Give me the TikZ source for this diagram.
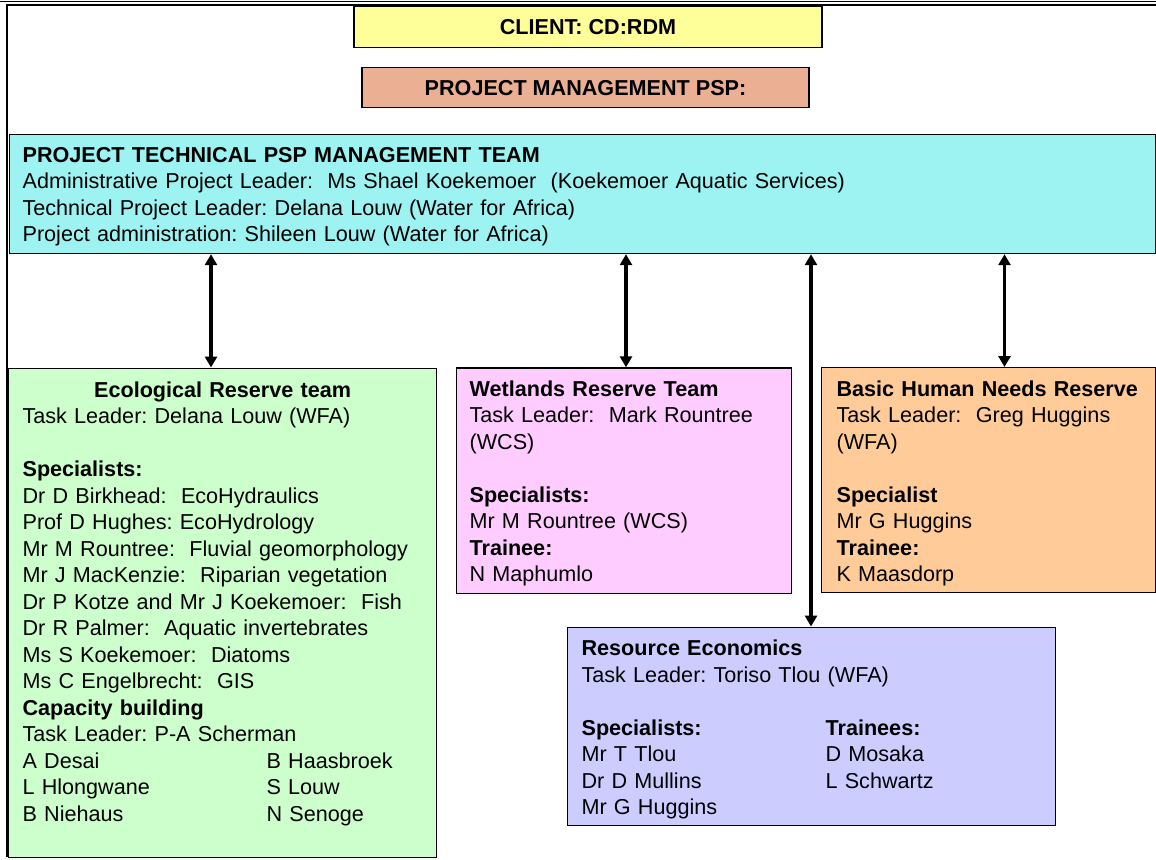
\documentclass[tikz,border=0pt]{standalone}
\usepackage{fontspec}
\setmainfont{Liberation Sans}
\usetikzlibrary{arrows.meta}

\definecolor{gelb}{HTML}{FFFF99}
\definecolor{lachs}{HTML}{EBB093}
\definecolor{tuerkis}{HTML}{9DF2F2}
\definecolor{gruen}{HTML}{CCFFCC}
\definecolor{rosa}{HTML}{FFCCFF}
\definecolor{apricot}{HTML}{FFCC99}
\definecolor{lila}{HTML}{CCCCFF}

\begin{document}
\frenchspacing
\begin{tikzpicture}[x=0.5pt,y=-0.5pt,<->,>={Triangle[length=5.5pt,width=6pt]},
	font=\fontsize{10.8}{13.25}\selectfont,
	kopf/.style={draw,line width=0.6pt,anchor=north,inner ysep=0pt,text height=13.75pt,font=\fontsize{10.8}{13.25}\selectfont\bfseries},
	team/.style={draw,line width=0.6pt,anchor=north west,align=left,inner ysep=0pt,inner xsep=7pt},
	pfeil/.style={line width=1.6pt}]

\useasboundingbox (0,0) rectangle (1156,859);

%Rahmen
\draw[-,line width=0.5pt] (0,1) -- (1156,1);
\draw[-,line width=1pt] (1156,5) -- (7,5) -- (7,857);

%Erstelle Kopf
\node[kopf,fill=gelb,minimum width=234pt,text depth=6.75pt]	(C)	at (588,6)	{CLIENT: CD:RDM};
\node[kopf,fill=lachs,minimum width=223.5pt,text depth=6.25pt]	(P)	at (585.5,67)	{PROJECT MANAGEMENT PSP:};
\node[team,fill=tuerkis,text width=560pt,inner xsep=6.5pt,text height=13.7pt,text depth=45.8pt]	(T)	at (9,134)
	{\textbf{PROJECT TECHNICAL PSP MANAGEMENT TEAM}\\
	Administrative Project Leader:~ Ms Shael Koekemoer~ (Koekemoer Aquatic Services)\\
	Technical Project Leader: Delana Louw (Water for Africa)\\
	Project administration: Shileen Louw (Water for Africa)};

%Erstelle Teams
\node[team,fill=gruen,text width=200pt,text height=14.6pt,text depth=230.15pt]	(E)	at (8,367.5)
	{\makebox[200pt]{\textbf{Ecological Reserve team}}\\
	Task Leader: Delana Louw (WFA)\\[13.25pt]
	\textbf{Specialists:}\\
	Dr D Birkhead:~ EcoHydraulics\\
	Prof D Hughes: EcoHydrology\\
	Mr M Rountree:~ Fluvial geomorphology\\
	Mr J MacKenzie:~ Riparian vegetation\\
	Dr P Kotze and Mr J Koekemoer:~ Fish\\
	Dr R Palmer:~ Aquatic invertebrates\\
	Ms S Koekemoer:~ Diatoms\\
	Ms C Engelbrecht:~ GIS\\
	\textbf{Capacity building}\\
	Task Leader: P-A Scherman\\
	\makebox[122pt][l]{A Desai}B Haasbroek\\
	\makebox[122pt][l]{L Hlongwane}S Louw\\
	\makebox[122pt][l]{B Niehaus}N Senoge};
\node[team,fill=rosa,text width=154.5pt,inner xsep=6.5pt,text height=14.2pt,text depth=98.65pt]	(W)	at (456,367.3)
	{\textbf{Wetlands Reserve Team}\\
	Task Leader:~ Mark Rountree\\
	(WCS)\\[13.25pt]
	\textbf{Specialists:}\\
	Mr M Rountree (WCS)\\
	\textbf{Trainee:}\\
	N Maphumlo};
\node[team,fill=apricot,text width=152pt,inner xsep=7.5pt,text height=14.2pt,text depth=98.3pt]	(B)	at (821,367)
	{\textbf{Basic Human Needs Reserve}\\
	Task Leader:~ Greg Huggins\\
	(WFA)\\[13.25pt]
	\textbf{Specialist}\\
	Mr G Huggins\\
	\textbf{Trainee:}\\
	K Maasdorp};
\node[team,fill=lila,text width=230pt,text height=14.2pt,text depth=85.05pt]	(R)	at (567,626.5)
	{\textbf{Resource Economics}\\
	Task Leader: Toriso Tlou (WFA)\\[13.25pt]
	\makebox[122pt][l]{\textbf{Specialists:}}\textbf{Trainees:}\\
	\makebox[122pt][l]{Mr T Tlou}D Mosaka\\
	\makebox[122pt][l]{Dr D Mullins}L Schwartz\\
	Mr G Huggins};

%Erstelle Pfeile
\draw[pfeil]	(T.south -| 211,0)	--	(E.north -| 211,0);
\draw[pfeil]	(T.south -| 626,0)	--	(W.north -| 626,0);
\draw[pfeil]	(T.south -| 811,0)	--	(R.north -| 811,0);
\draw[pfeil]	(T.south -| 1004.5,0)	--	(B.north -| 1004.5,0);

\end{tikzpicture}
\end{document}
